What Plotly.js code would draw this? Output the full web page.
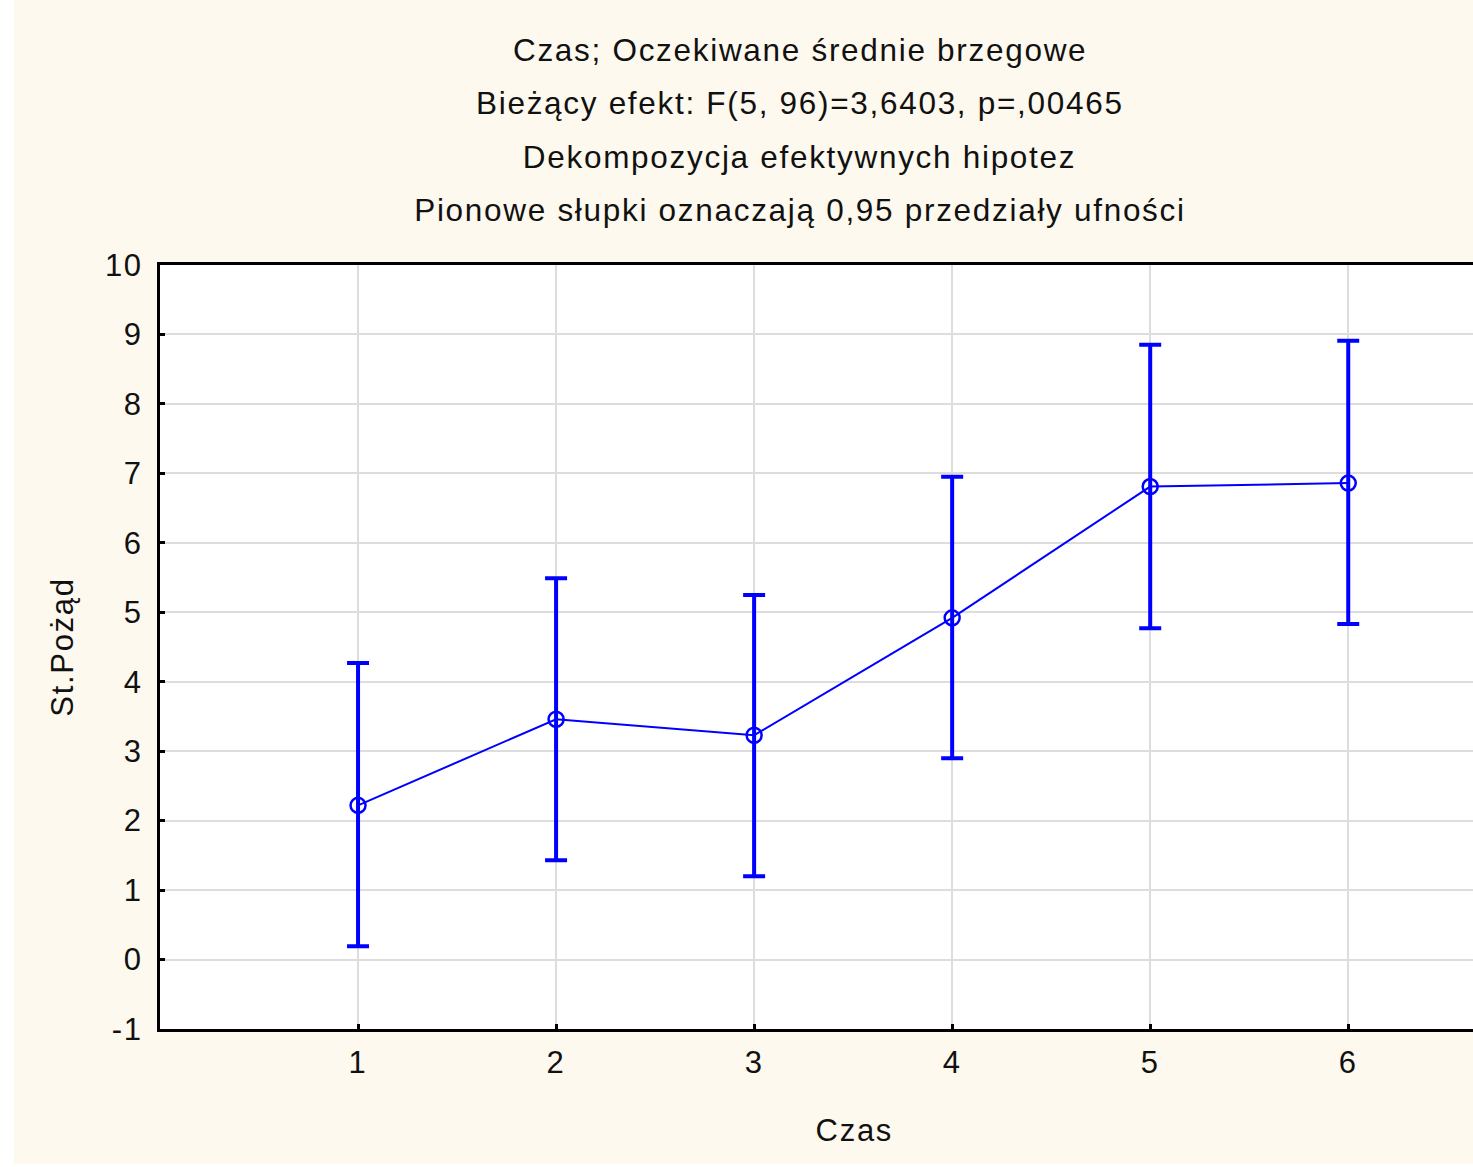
<!DOCTYPE html>
<html>
<head>
<meta charset="utf-8">
<script src="https://cdn.plot.ly/plotly-3.0.1.min.js"></script>
<style>
  html, body { margin: 0; padding: 0; background: #ffffff; width: 1473px; height: 1167px; overflow: hidden; }
  #chart { position: absolute; left: 14px; top: 0; width: 1459px; height: 1164px; }
  #chart text { letter-spacing: 1.7px; }
</style>
</head>
<body>
<div id="chart"></div>
<script>
// Data
const czas = [1, 2, 3, 4, 5, 6];
const means = [2.22, 3.46, 3.23, 4.92, 6.81, 6.86];
const upperCI = [4.27, 5.49, 5.25, 6.95, 8.85, 8.91];
const lowerCI = [0.19, 1.43, 1.20, 2.90, 4.77, 4.83];
const titleLines = [
  "Czas; Oczekiwane średnie brzegowe",
  "Bieżący efekt: F(5, 96)=3,6403, p=,00465",
  "Dekompozycja efektywnych hipotez",
  "Pionowe słupki oznaczają 0,95 przedziały ufności"
];
const xTitle = "Czas";
const yTitle = "St.Pożąd";
const xTicks = [1, 2, 3, 4, 5, 6];
const yTicks = [-1, 0, 1, 2, 3, 4, 5, 6, 7, 8, 9, 10];

const errPlus = means.map((m, i) => upperCI[i] - m);
const errMinus = means.map((m, i) => m - lowerCI[i]);

const FONT = "Arial, 'Liberation Sans', sans-serif";
const BLUE = "#0000ff";
const TEXT = "#111111";

const trace = {
  x: czas,
  y: means,
  type: "scatter",
  mode: "lines+markers",
  line: { color: BLUE, width: 2 },
  marker: { symbol: "circle-open", size: 15, color: BLUE, line: { width: 2.5, color: BLUE } },
  error_y: {
    type: "data", symmetric: false,
    array: errPlus, arrayminus: errMinus,
    color: BLUE, thickness: 4, width: 11
  },
  hoverinfo: "x+y"
};

const titleY = [1.2818, 1.2123, 1.1415, 1.0721];
const annotations = titleLines.map((t, i) => ({
  text: t, xref: "paper", yref: "paper", x: 0.4874, y: titleY[i],
  xanchor: "center", yanchor: "middle", showarrow: false,
  font: { family: FONT, size: 31.5, color: TEXT }
}));
// x-axis title (centred under the full, partly cropped axis)
annotations.push({
  text: xTitle, xref: "paper", yref: "paper", x: 0.529, y: -0.1335,
  xanchor: "center", yanchor: "middle", showarrow: false,
  font: { family: FONT, size: 31, color: TEXT }
});

const layout = {
  width: 1459, height: 1164,
  margin: { l: 146, r: 0, t: 265, b: 135, pad: 0 },
  paper_bgcolor: "#fef9ee",
  plot_bgcolor: "#ffffff",
  showlegend: false,
  font: { family: FONT, size: 31, color: TEXT },
  annotations: annotations,
  xaxis: {
    range: [0, 6.63],
    tickvals: xTicks,
    ticktext: xTicks.map(String),
    showgrid: true, gridcolor: "#dddddd", gridwidth: 2,
    zeroline: false,
    showline: true, linecolor: "#000000", linewidth: 3, mirror: true,
    ticks: "inside", ticklen: 5, tickwidth: 3, tickcolor: "#000000",
    ticklabelstandoff: 4,
    tickfont: { family: FONT, size: 31, color: TEXT },
    fixedrange: true
  },
  yaxis: {
    range: [-1, 10],
    tickvals: yTicks,
    ticktext: yTicks.map(String),
    showgrid: true, gridcolor: "#dddddd", gridwidth: 2,
    zeroline: false,
    showline: true, linecolor: "#000000", linewidth: 3, mirror: false,
    ticks: "inside", ticklen: 5, tickwidth: 3, tickcolor: "#000000",
    ticklabelstandoff: 8,
    tickfont: { family: FONT, size: 31, color: TEXT },
    title: { text: yTitle, standoff: 26, font: { family: FONT, size: 31, color: TEXT } },
    fixedrange: true
  }
};

Plotly.newPlot("chart", [trace], layout, { displayModeBar: false });
</script>
</body>
</html>
